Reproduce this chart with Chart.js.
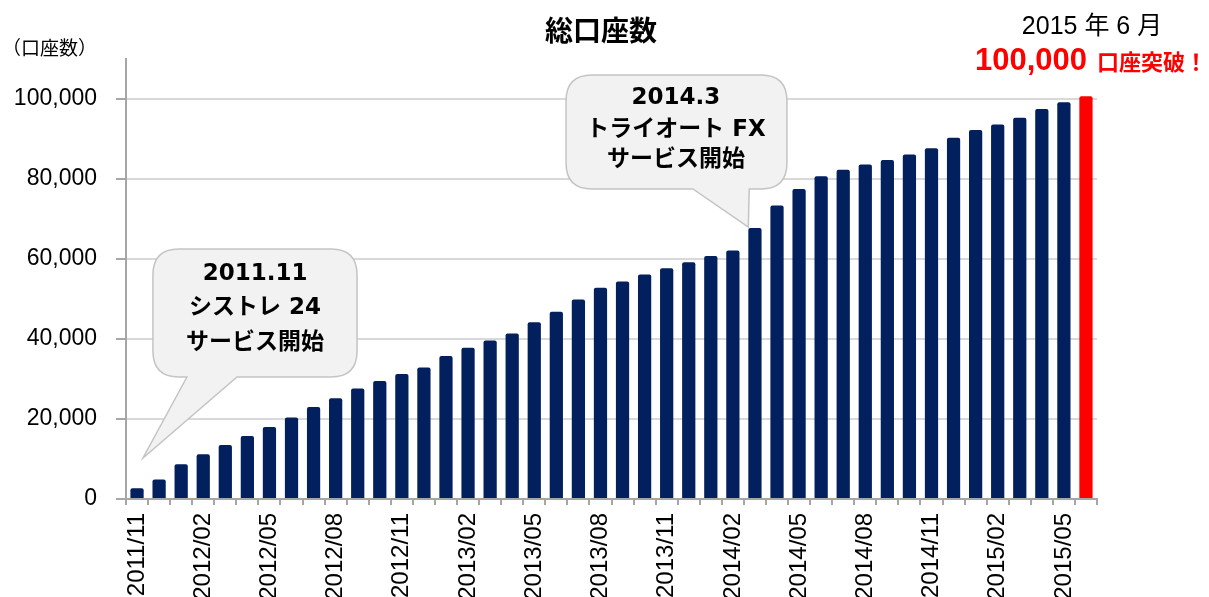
<!DOCTYPE html>
<html>
<head>
<meta charset="utf-8">
<script src="https://cdn.jsdelivr.net/npm/chart.js@4/dist/chart.umd.min.js"></script>
<style>
  html, body { margin: 0; padding: 0; background: #fff; }
  #wrap { width: 1209px; height: 597px; }
</style>
</head>
<body>
<div id="wrap"><canvas id="accountChart"></canvas></div>
<script>
// months from 2011/11 to 2015/06
const months = [
  "2011/11", "2011/12",
  "2012/01", "2012/02", "2012/03", "2012/04", "2012/05", "2012/06",
  "2012/07", "2012/08", "2012/09", "2012/10", "2012/11", "2012/12",
  "2013/01", "2013/02", "2013/03", "2013/04", "2013/05", "2013/06",
  "2013/07", "2013/08", "2013/09", "2013/10", "2013/11", "2013/12",
  "2014/01", "2014/02", "2014/03", "2014/04", "2014/05", "2014/06",
  "2014/07", "2014/08", "2014/09", "2014/10", "2014/11", "2014/12",
  "2015/01", "2015/02", "2015/03", "2015/04", "2015/05", "2015/06"
];
const accounts = [
  2700, 4900,
  8700, 11200, 13500, 15750, 18000, 20400,
  23000, 25200, 27600, 29500, 31250, 32900,
  35750, 37800, 39600, 41400, 44200, 46800,
  49900, 52800, 54400, 56100, 57700, 59200,
  60750, 62100, 67750, 73400, 77500, 80700,
  82300, 83600, 84750, 86150, 87700, 90300,
  92250, 93600, 95300, 97500, 99200, 100700
];
// x labels that are printed under the axis
const shownMonths = [
  "2011/11", "2012/02", "2012/05", "2012/08", "2012/11", "2013/02", "2013/05",
  "2013/08", "2013/11", "2014/02", "2014/05", "2014/08", "2014/11", "2015/02", "2015/05"
];
const yTicks = [0, 20000, 40000, 60000, 80000, 100000];
const highlightMonth = "2015/06";

const NAVY = "#02205e";
const RED = "#ff0000";
const SANS = "'Liberation Sans', 'Noto Sans CJK JP', sans-serif";
const BOLD_JP = "'DejaVu Sans', 'Noto Sans CJK JP', sans-serif";

// speech bubbles, placed in category index / value units
const callouts = [
  {
    lines: ["2011.11", "シストレ 24", "サービス開始"],
    box: { x1: 0.72, x2: 9.97, y1: 62500, y2: 30500 },
    tail: { b1: 2.26, b2: 4.53, tipX: 0.27, tipY: 10250 },
    textX: 5.35, textY: [56250, 47750, 39000]
  },
  {
    lines: ["2014.3", "トライオート FX", "サービス開始"],
    box: { x1: 19.44, x2: 29.45, y1: 106000, y2: 77500 },
    tail: { b1: 25.19, b2: 27.74, tipX: 27.70, tipY: 68000 },
    textX: 24.42, textY: [100250, 92250, 84750]
  }
];

const extraText = {
  id: "extraText",
  afterDraw(chart) {
    const ctx = chart.ctx;
    const xs = chart.scales.x, ys = chart.scales.y;
    ctx.save();

    // title, centred on the whole picture
    ctx.fillStyle = "#000";
    ctx.font = "bold 28px " + BOLD_JP;
    ctx.textAlign = "center";
    ctx.textBaseline = "middle";
    ctx.fillText("総口座数", 601, 34);

    // unit label
    ctx.font = "19px " + SANS;
    ctx.textAlign = "left";
    ctx.fillText("（口座数）", 2, 50);

    // callouts
    callouts.forEach(c => {
      const l = xs.getPixelForValue(c.box.x1), r = xs.getPixelForValue(c.box.x2);
      const t = ys.getPixelForValue(c.box.y1), b = ys.getPixelForValue(c.box.y2);
      const rad = 26;
      const b1 = xs.getPixelForValue(c.tail.b1), b2 = xs.getPixelForValue(c.tail.b2);
      const tx = xs.getPixelForValue(c.tail.tipX), ty = ys.getPixelForValue(c.tail.tipY);
      ctx.beginPath();
      ctx.moveTo(l + rad, t);
      ctx.lineTo(r - rad, t);
      ctx.quadraticCurveTo(r, t, r, t + rad);
      ctx.lineTo(r, b - rad);
      ctx.quadraticCurveTo(r, b, r - rad, b);
      ctx.lineTo(b2, b);
      ctx.lineTo(tx, ty);
      ctx.lineTo(b1, b);
      ctx.lineTo(l + rad, b);
      ctx.quadraticCurveTo(l, b, l, b - rad);
      ctx.lineTo(l, t + rad);
      ctx.quadraticCurveTo(l, t, l + rad, t);
      ctx.closePath();
      ctx.fillStyle = "#f2f2f2";
      ctx.fill();
      ctx.strokeStyle = "#c4c4c4";
      ctx.lineWidth = 1.5;
      ctx.stroke();

      ctx.fillStyle = "#000";
      ctx.font = "bold 23px " + BOLD_JP;
      ctx.textAlign = "center";
      ctx.textBaseline = "middle";
      const cx = xs.getPixelForValue(c.textX);
      c.lines.forEach((s, i) => ctx.fillText(s, cx, ys.getPixelForValue(c.textY[i])));
    });

    // milestone note
    ctx.fillStyle = "#000";
    ctx.font = "25px " + SANS;
    ctx.textAlign = "center";
    ctx.textBaseline = "alphabetic";
    ctx.fillText("2015 年 6 月", 1092, 34);

    ctx.fillStyle = RED;
    ctx.textAlign = "left";
    ctx.font = "bold 31px " + SANS;
    ctx.fillText("100,000", 975, 70);
    ctx.font = "bold 22px " + SANS;
    ctx.fillText("口座突破！", 1097, 70);

    ctx.restore();
  }
};

const ctx = document.getElementById("accountChart").getContext("2d");
new Chart(ctx, {
  type: "bar",
  data: {
    labels: months,
    datasets: [{
      label: "総口座数",
      data: accounts,
      backgroundColor: months.map(m => m === highlightMonth ? RED : NAVY),
      borderRadius: { topLeft: 2, topRight: 2 },
      borderSkipped: "bottom",
      barPercentage: 0.6,
      categoryPercentage: 1.0
    }]
  },
  options: {
    responsive: true,
    maintainAspectRatio: false,
    animation: false,
    layout: { padding: { left: 0, right: 112, top: 59, bottom: 0 } },
    plugins: {
      legend: { display: false },
      tooltip: { enabled: false },
      title: { display: false }
    },
    scales: {
      x: {
        grid: {
          drawOnChartArea: false,
          drawTicks: true,
          tickLength: 6,
          color: "#a6a6a6",
          lineWidth: 2,
          offset: true
        },
        border: { color: "#a6a6a6", width: 2 },
        ticks: {
          autoSkip: false,
          minRotation: 90,
          maxRotation: 90,
          padding: 8,
          color: "#000",
          font: { family: SANS, size: 24 },
          callback: function (value) {
            const m = this.getLabelForValue(value);
            return shownMonths.includes(m) ? m : "";
          }
        },
        afterFit: scale => { scale.height = 98; }
      },
      y: {
        min: 0,
        max: 110000,
        grid: {
          color: "#d9d9d9",
          lineWidth: 2,
          tickLength: 10,
          tickColor: "#a6a6a6"
        },
        border: { color: "#a6a6a6", width: 2 },
        ticks: {
          stepSize: 20000,
          padding: 19,
          color: "#000",
          font: { family: SANS, size: 23 },
          callback: v => v.toLocaleString("en-US")
        },
        afterBuildTicks: scale => {
          scale.ticks = yTicks.map(v => ({ value: v }));
        },
        afterFit: scale => { scale.width = 126; }
      }
    }
  },
  plugins: [extraText]
});
</script>
</body>
</html>
